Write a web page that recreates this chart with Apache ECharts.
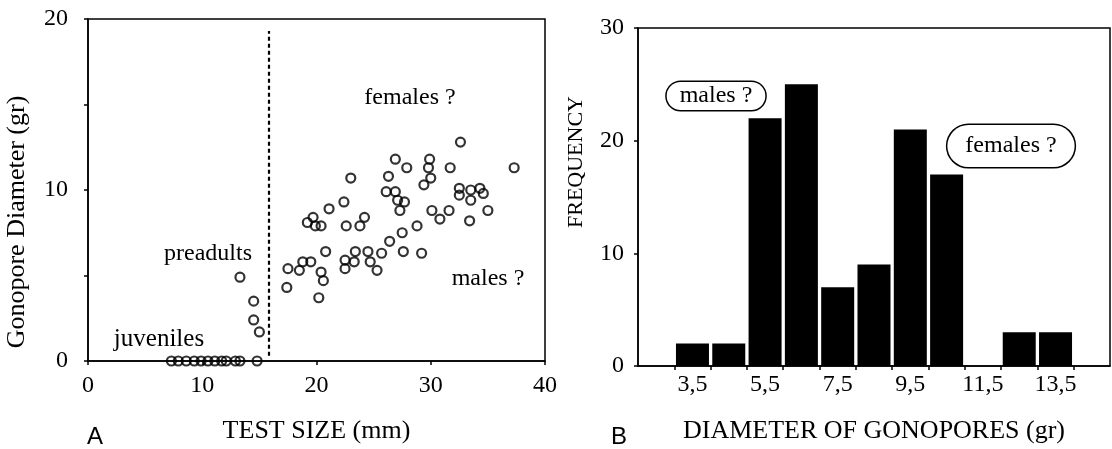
<!DOCTYPE html>
<html>
<head>
<meta charset="utf-8">
<script src="https://cdn.jsdelivr.net/npm/echarts@6/dist/echarts.min.js"></script>
<style>
  html, body { margin: 0; padding: 0; background: #fff; }
  #main { width: 1112px; height: 449px; }
</style>
</head>
<body>
<div id="main"></div>
<script>
// panel A - test size (mm) vs gonopore diameter (gr)
const juvenileX = [7.3, 7.9, 8.6, 9.3, 9.9, 10.5, 11.1, 11.7, 12.1, 12.9, 13.3, 14.8];
const preadults = [[13.3, 4.9], [14.5, 3.5], [14.5, 2.4], [15.0, 1.7]];
const adults = [
  [17.4, 4.3], [17.5, 5.4], [18.5, 5.3], [18.8, 5.8], [19.5, 5.8], [19.2, 8.1],
  [19.7, 8.4], [19.9, 7.9], [20.4, 7.9], [21.1, 8.9], [20.8, 6.4], [20.4, 5.2],
  [20.6, 4.7], [20.2, 3.7], [22.4, 9.3], [23.0, 10.7], [22.6, 7.9], [22.5, 5.9],
  [22.5, 5.4], [23.3, 5.8], [23.4, 6.4], [23.8, 7.9], [24.2, 8.4], [24.5, 6.4],
  [24.7, 5.8], [25.3, 5.3], [25.7, 6.3], [26.4, 7.0], [27.5, 7.5], [27.6, 6.4],
  [28.8, 7.9], [29.2, 6.3], [26.1, 9.9], [26.9, 9.9], [27.1, 9.4], [27.7, 9.3],
  [27.3, 8.8], [26.3, 10.8], [26.9, 11.8], [27.9, 11.3], [29.9, 11.8], [29.8, 11.3],
  [30.0, 10.7], [29.4, 10.3], [30.1, 8.8], [30.8, 8.3], [31.6, 8.8], [31.7, 11.3],
  [32.6, 12.8], [32.5, 10.1], [32.5, 9.7], [33.5, 10.0], [33.5, 9.4], [34.3, 10.1],
  [34.6, 9.8], [33.4, 8.2], [35.0, 8.8], [37.3, 11.3]
];
const dividerX = 15.8;

// panel B - histogram of gonopore diameters
const binCenters = [3.5, 4.5, 5.5, 6.5, 7.5, 8.5, 9.5, 10.5, 11.5, 12.5, 13.5];
const frequency = [2, 2, 22, 25, 7, 9, 21, 17, 0, 3, 3];
const binEdges = [3, 4, 5, 6, 7, 8, 9, 10, 11, 12, 13, 14];
const binLabels = [3.5, 5.5, 7.5, 9.5, 11.5, 13.5];

const serif = 'Liberation Serif';
const black = '#000';

let chart = echarts.init(document.getElementById('main'));

const axisBase = {
  axisLine: { lineStyle: { color: black, width: 1.5 } },
  axisTick: { lineStyle: { color: black, width: 1.5 }, length: 4 },
  splitLine: { show: false },
  axisLabel: { color: black, fontFamily: serif, fontSize: 24 }
};
const titleStyle = { color: black, fontFamily: serif, fontSize: 26 };

const circle = {
  type: 'scatter',
  symbol: 'circle',
  symbolSize: 9,
  itemStyle: { color: 'rgba(0,0,0,0)', borderColor: black, borderWidth: 2.2 }
};

function label(text, x, y, size, extra) {
  return Object.assign({
    type: 'text',
    x: x,
    y: y,
    style: {
      text: text,
      fontFamily: serif,
      fontSize: size,
      fill: black,
      align: 'center',
      verticalAlign: 'middle'
    }
  }, extra || {});
}

function boxed(text, x, y, padding, radius) {
  return {
    type: 'text',
    x: x,
    y: y,
    style: {
      text: text, fontFamily: serif, fontSize: 24, fill: black,
      align: 'center', verticalAlign: 'middle',
      backgroundColor: '#fff', borderColor: black, borderWidth: 1.5,
      borderRadius: radius, padding: padding
    }
  };
}

let option = {
  animation: false,
  grid: [
    { left: 88, top: 19, width: 457, height: 348, show: true, borderColor: black, borderWidth: 1.5 },
    { left: 638, top: 28, width: 472, height: 344, show: true, borderColor: black, borderWidth: 1.5 }
  ],
  xAxis: [
    Object.assign({}, axisBase, {
      gridIndex: 0,
      type: 'value',
      min: 0,
      max: 40,
      interval: 10,
      name: 'TEST SIZE (mm)',
      nameLocation: 'middle',
      nameGap: 57,
      nameTextStyle: titleStyle,
      axisLabel: Object.assign({}, axisBase.axisLabel, { margin: 13 })
    }),
    Object.assign({}, axisBase, {
      gridIndex: 1,
      type: 'value',
      min: 2,
      max: 15,
      name: 'DIAMETER OF GONOPORES (gr)',
      nameLocation: 'middle',
      nameGap: 52,
      nameTextStyle: titleStyle,
      axisTick: Object.assign({}, axisBase.axisTick, { customValues: binEdges }),
      axisLabel: Object.assign({}, axisBase.axisLabel, {
        customValues: binLabels,
        margin: 7,
        formatter: function (v) { return String(v).replace('.', ','); }
      })
    })
  ],
  yAxis: [
    Object.assign({}, axisBase, {
      gridIndex: 0,
      type: 'value',
      min: 0,
      max: 20,
      interval: 5,
      axisLabel: Object.assign({}, axisBase.axisLabel, {
        margin: 20,
        formatter: function (v) { return v % 10 === 0 ? String(v) : ''; }
      })
    }),
    Object.assign({}, axisBase, {
      gridIndex: 1,
      type: 'value',
      min: 0,
      max: 30,
      interval: 10,
      axisLabel: Object.assign({}, axisBase.axisLabel, { margin: 14 })
    })
  ],
  series: [
    Object.assign({}, circle, {
      name: 'juveniles',
      xAxisIndex: 0,
      yAxisIndex: 0,
      data: juvenileX.map(function (x) { return [x, 0]; })
    }),
    Object.assign({}, circle, {
      name: 'preadults',
      xAxisIndex: 0,
      yAxisIndex: 0,
      data: preadults
    }),
    Object.assign({}, circle, {
      name: 'adults',
      xAxisIndex: 0,
      yAxisIndex: 0,
      data: adults,
      markLine: {
        silent: true,
        symbol: ['none', 'none'],
        label: { show: false },
        lineStyle: { color: black, width: 2.2, type: [4, 3] },
        data: [[{ coord: [dividerX, 0.3] }, { coord: [dividerX, 19.3] }]]
      }
    }),
    {
      type: 'bar',
      name: 'frequency',
      xAxisIndex: 1,
      yAxisIndex: 1,
      barWidth: 33,
      itemStyle: { color: black },
      data: binCenters.map(function (c, i) { return [c, frequency[i]]; })
    }
  ],
  graphic: [
    label('Gonopore Diameter (gr)', 17, 222, 26, { rotation: Math.PI / 2 }),
    label('FREQUENCY', 576, 162, 22, { rotation: Math.PI / 2 }),
    label('juveniles', 159, 339, 25),
    label('preadults', 208, 254, 24),
    label('females ?', 410, 98, 24),
    label('males ?', 488, 279, 24),
    {
      type: 'text',
      x: 95,
      y: 437,
      style: { text: 'A', fontFamily: 'Liberation Sans', fontSize: 24, fill: black, align: 'center', verticalAlign: 'middle' }
    },
    {
      type: 'text',
      x: 619,
      y: 437,
      style: { text: 'B', fontFamily: 'Liberation Sans', fontSize: 24, fill: black, align: 'center', verticalAlign: 'middle' }
    },
    boxed('males ?', 716, 96, [2, 13], 14),
    boxed('females ?', 1011, 146, [9, 18], 21)
  ]
};

chart.setOption(option);
</script>
</body>
</html>
